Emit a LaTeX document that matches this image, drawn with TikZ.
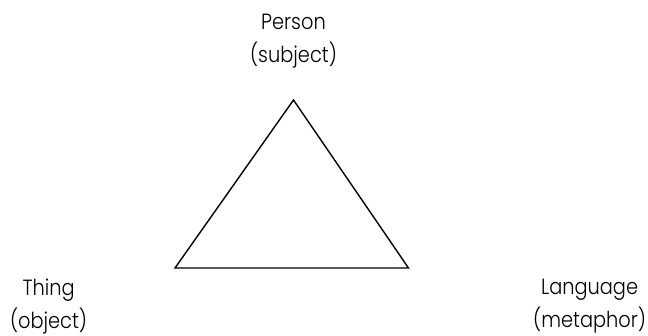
\documentclass[tikz,border=0pt]{standalone}
\usepackage{fontspec}
\setmainfont{Poppins Light}[FakeStretch=0.88]
\usetikzlibrary{positioning}
\tikzset{
 tri edge/.style={line width=1.4pt,line join=miter},
 corner label/.style={inner sep=0pt,outer sep=0pt,align=center,
                      font=\fontsize{22}{33}\selectfont}
}

\begin{document}
\begin{tikzpicture}[x=1pt,y=-1pt]
 \useasboundingbox (0,0) rectangle (648,335);
 \coordinate (person) at (293.5,100);
 \coordinate (thing) at (175,268);
 \coordinate (language) at (408.5,268);

 \draw[tri edge] (person)--(thing)--(language)--cycle;

 \node[corner label,anchor=north] (subj) at (293.5,14) {Person\\(subject)};
 \node[corner label,anchor=north west] (obj) at (10,279) {Thing\\(object)};
 \node[corner label,anchor=north east] (meta) at (646,279) {Language\\(metaphor)};
\end{tikzpicture}
\end{document}
